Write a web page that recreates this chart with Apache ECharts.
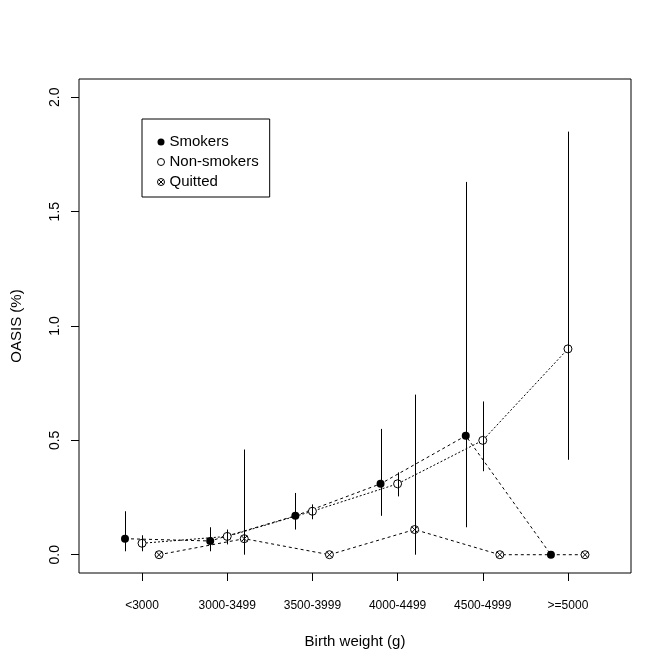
<!DOCTYPE html>
<html>
<head>
<meta charset="utf-8">
<script src="https://cdn.jsdelivr.net/npm/echarts@6/dist/echarts.min.js"></script>
<style>
  html, body { margin: 0; padding: 0; background: #fff; }
  #chart { width: 672px; height: 671px; }
</style>
</head>
<body>
<div id="chart"></div>
<script>
const categories = ['<3000', '3000-3499', '3500-3999', '4000-4499', '4500-4999', '>=5000']
const yTicks = [0, 0.5, 1.0, 1.5, 2.0]

const smokers = [0.07, 0.06, 0.17, 0.31, 0.52, 0.00]
const smokersLow = [0.015, 0.015, 0.11, 0.17, 0.12, null]
const smokersHigh = [0.19, 0.12, 0.27, 0.55, 1.63, null]

const nonSmokers = [0.05, 0.08, 0.19, 0.31, 0.50, 0.90]
const nonSmokersLow = [0.015, 0.045, 0.155, 0.255, 0.365, 0.415]
const nonSmokersHigh = [0.085, 0.11, 0.22, 0.36, 0.67, 1.85]

const quitted = [0.00, 0.07, 0.00, 0.11, 0.00, 0.00]
const quittedLow = [null, 0.0, null, 0.0, null, null]
const quittedHigh = [null, 0.46, null, 0.70, null, null]

const FONT = '"Liberation Sans", Arial, sans-serif'
// circle with a cross (R pch 13)
const crossCircle = 'path://M10,5A5,5,0,1,1,0,5A5,5,0,1,1,10,5ZM1.46,1.46L8.54,8.54M8.54,1.46L1.46,8.54'

function points(values, offset) {
  return values.map((v, i) => [i + offset, v])
}

function errorBars(name, offset, low, high) {
  const data = []
  categories.forEach((c, i) => {
    if (low[i] != null) data.push([i + offset, low[i], high[i]])
  })
  return {
    type: 'custom',
    name: name,
    data: data,
    z: 5,
    silent: true,
    encode: { x: 0, y: [1, 2] },
    renderItem(params, api) {
      const a = api.coord([api.value(0), api.value(1)])
      const b = api.coord([api.value(0), api.value(2)])
      const x = Math.round(a[0]) + 0.5
      return {
        type: 'line',
        shape: { x1: x, y1: a[1], x2: x, y2: b[1] },
        style: { stroke: '#000', lineWidth: 1 }
      }
    }
  }
}

const chart = echarts.init(document.getElementById('chart'))
chart.setOption({
  animation: false,
  backgroundColor: '#fff',
  textStyle: { fontFamily: FONT, color: '#000' },
  grid: {
    left: 79, top: 79, right: 41, bottom: 98,
    show: true, borderColor: '#000', borderWidth: 1
  },
  legend: {
    orient: 'vertical',
    left: 142,
    top: 119,
    borderColor: '#000',
    borderWidth: 1,
    borderRadius: 0,
    padding: [14, 11, 6, 15],
    itemWidth: 7,
    itemHeight: 7,
    itemGap: 2,
    selectedMode: false,
    textStyle: { fontFamily: FONT, fontSize: 15, color: '#000', lineHeight: 18 },
    data: [
      { name: 'Smokers', icon: 'circle', itemStyle: { color: '#000', borderWidth: 0 } },
      { name: 'Non-smokers', icon: 'circle', itemStyle: { color: '#fff', borderColor: '#000', borderWidth: 1 } },
      { name: 'Quitted', icon: crossCircle, itemStyle: { color: '#fff', borderColor: '#000', borderWidth: 1 } }
    ]
  },
  xAxis: {
    type: 'value',
    min: -0.74,
    max: 5.74,
    name: 'Birth weight (g)',
    nameLocation: 'middle',
    nameGap: 61,
    nameTextStyle: { fontFamily: FONT, fontSize: 15, color: '#000' },
    axisLine: { show: false, onZero: false },
    splitLine: { show: false },
    axisTick: { show: true, length: 8, customValues: categories.map((c, i) => i), lineStyle: { color: '#000' } },
    axisLabel: {
      customValues: categories.map((c, i) => i),
      formatter: v => categories[Math.round(v)],
      fontSize: 12,
      margin: 27,
      color: '#000',
      fontFamily: FONT
    }
  },
  yAxis: {
    type: 'value',
    min: -0.08,
    max: 2.08,
    name: 'OASIS (%)',
    nameLocation: 'middle',
    nameRotate: 90,
    nameGap: 55,
    nameTextStyle: { fontFamily: FONT, fontSize: 15, color: '#000' },
    axisLine: { show: false, onZero: false },
    splitLine: { show: false },
    axisTick: { show: true, length: 8, customValues: yTicks, lineStyle: { color: '#000' } },
    axisLabel: {
      customValues: yTicks,
      formatter: v => v.toFixed(1),
      rotate: 90,
      fontSize: 14,
      margin: 17,
      color: '#000',
      fontFamily: FONT
    }
  },
  series: [
    {
      type: 'line',
      name: 'Smokers',
      data: points(smokers, -0.2),
      symbol: 'circle',
      symbolSize: 8,
      itemStyle: { color: '#000' },
      lineStyle: { color: '#000', width: 1, type: [3, 3] },
      emphasis: { disabled: true },
      z: 3
    },
    {
      type: 'line',
      name: 'Non-smokers',
      data: points(nonSmokers, 0),
      symbol: 'circle',
      symbolSize: 8,
      itemStyle: { color: '#fff', borderColor: '#000', borderWidth: 1 },
      lineStyle: { color: '#000', width: 1, type: [2, 2] },
      emphasis: { disabled: true },
      z: 3
    },
    {
      type: 'line',
      name: 'Quitted',
      data: points(quitted, 0.2),
      symbol: crossCircle,
      symbolSize: 8,
      itemStyle: { color: '#fff', borderColor: '#000', borderWidth: 1 },
      lineStyle: { color: '#000', width: 1, type: [3, 3] },
      emphasis: { disabled: true },
      z: 3
    },
    errorBars('Smokers CI', -0.2, smokersLow, smokersHigh),
    errorBars('Non-smokers CI', 0, nonSmokersLow, nonSmokersHigh),
    errorBars('Quitted CI', 0.2, quittedLow, quittedHigh)
  ]
})
</script>
</body>
</html>
